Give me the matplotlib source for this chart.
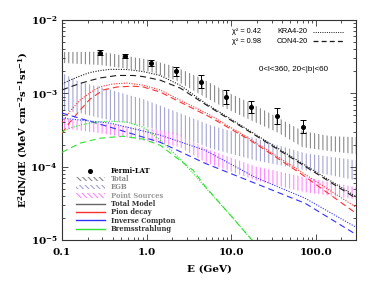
import math
import matplotlib
matplotlib.use("Agg")
import matplotlib.pyplot as plt
from matplotlib.lines import Line2D
from matplotlib.patches import Patch
from matplotlib.ticker import FixedLocator, FuncFormatter, LogLocator, NullFormatter

# ---------------- data ----------------
E_data = [0.28, 0.55, 1.12, 2.2, 4.4, 8.7, 17.3, 35, 70]
flux_data = [3.57e-3, 3.2e-3, 2.61e-3, 2.0e-3, 1.44e-3, 9.0e-4, 6.5e-4, 4.9e-4, 3.5e-4]
flux_hi = [3.84e-3, 3.41e-3, 2.85e-3, 2.3e-3, 1.77e-3, 1.12e-3, 7.8e-4, 6.3e-4, 4.3e-4]
flux_lo = [3.32e-3, 3.0e-3, 2.39e-3, 1.74e-3, 1.17e-3, 7.2e-4, 5.4e-4, 3.85e-4, 2.85e-4]

E_total_band = [0.1, 0.28, 1.1, 2.2, 4.9, 8.5, 18, 35, 70, 150, 300]
total_hi = [3.65e-3, 3.69e-3, 2.85e-3, 2.3e-3, 1.51e-3, 1.07e-3, 7.1e-4, 4.73e-4, 3.05e-4, 2.6e-4, 2.52e-4]
total_lo = [2.59e-3, 2.43e-3, 1.97e-3, 1.51e-3, 8.87e-4, 6.28e-4, 4.17e-4, 2.95e-4, 1.84e-4, 1.62e-4, 1.48e-4]

E_egb_band = [0.1, 0.163, 0.282, 0.909, 2.3, 5.64, 19.2, 75, 300]
egb_hi = [1.89e-3, 1.42e-3, 1.22e-3, 8.33e-4, 5.54e-4, 3.68e-4, 2.44e-4, 1.52e-4, 1.22e-4]
egb_lo = [5.89e-4, 5.37e-4, 4.58e-4, 3.56e-4, 2.69e-4, 1.78e-4, 1.22e-4, 8.93e-5, 6.52e-5]

E_ps_band = [0.1, 0.28, 1.44, 2.49, 4.9, 19.2, 75, 300]
ps_hi = [4.58e-4, 3.92e-4, 3.14e-4, 2.77e-4, 1.78e-4, 1.01e-4, 7.16e-5, 5.24e-5]
ps_lo = [3.35e-4, 2.86e-4, 2.09e-4, 1.84e-4, 1.15e-4, 6.52e-5, 4.47e-5, 3.59e-5]

E_kra_tot = [0.1, 0.124, 0.163, 0.214, 0.282, 0.37, 0.587, 0.909, 1.445, 2.49, 4.92, 16.8, 65.6, 300]
kra_tot = [1.34e-3, 1.51e-3, 1.72e-3, 1.92e-3, 2.04e-3, 2.12e-3, 2.11e-3, 1.98e-3, 1.75e-3, 1.29e-3,
           7.35e-4, 3.05e-4, 1.15e-4, 3.9e-5]
E_con_tot = [0.1, 0.124, 0.163, 0.214, 0.282, 0.448, 0.692, 0.909, 1.445, 2.49, 4.92, 16.8, 65.6, 300]
con_tot = [1.11e-3, 1.22e-3, 1.36e-3, 1.49e-3, 1.62e-3, 1.75e-3, 1.75e-3, 1.69e-3, 1.51e-3, 1.18e-3,
           7.1e-4, 2.95e-4, 1.11e-4, 3.7e-5]

E_kra_pi = [0.1, 0.124, 0.163, 0.214, 0.282, 0.401, 0.587, 0.909, 1.445, 2.49, 5.64, 16.8, 65.6, 300]
kra_pi = [4.05e-4, 5.71e-4, 8.07e-4, 1.02e-3, 1.23e-3, 1.34e-3, 1.38e-3, 1.29e-3, 1.11e-3, 8.07e-4,
          5.04e-4, 2.37e-4, 8.65e-5, 2.79e-5]
E_con_pi = [0.1, 0.124, 0.163, 0.214, 0.306, 0.448, 0.692, 0.909, 1.445, 2.49, 5.64, 16.8, 65.6, 300]
con_pi = [2.86e-4, 4.05e-4, 5.89e-4, 8.33e-4, 1.11e-3, 1.22e-3, 1.25e-3, 1.22e-3, 1.04e-3, 7.59e-4,
          4.73e-4, 2.29e-4, 8.13e-5, 2.31e-5]

E_ic = [0.1, 0.37, 1.445, 4.92, 19.2, 75.1, 300]
kra_ic = [4.58e-4, 3.92e-4, 2.69e-4, 1.67e-4, 7.16e-5, 3.7e-5, 1.49e-5]
con_ic = [5.37e-4, 3.45e-4, 2.15e-4, 1.11e-4, 5.93e-5, 3.16e-5, 1.19e-5]

E_kra_br = [0.1, 0.124, 0.163, 0.246, 0.37, 0.587, 0.909, 1.445, 2.3, 3.55, 4.92, 10.3, 17.7, 23.3]
kra_br = [2.95e-4, 3.35e-4, 3.68e-4, 4.05e-4, 4.17e-4, 4.05e-4, 3.45e-4, 2.3e-4, 1.39e-4, 8.13e-5,
          5.24e-5, 2.04e-5, 9.9e-6, 7.0e-6]
E_con_br = [0.1, 0.124, 0.163, 0.282, 0.527, 0.909, 1.445, 2.3, 3.55, 4.92, 10.3, 17.7, 23.3]
con_br = [1.57e-4, 1.78e-4, 2.09e-4, 2.44e-4, 2.6e-4, 2.37e-4, 1.96e-4, 1.3e-4, 8.93e-5, 5.4e-5,
          2.04e-5, 9.9e-6, 7.0e-6]

x_ticks = [0.1, 1, 10, 100]
x_ticklabels = ["0.1", "1.0", "10.0", "100.0"]
y_ticks = [1e-5, 1e-4, 1e-3, 1e-2]

legend_labels = ["Fermi-LAT", "Total", "EGB", "Point Sources", "Total Model", "Pion decay",
                 "Inverse Compton", "Bremsstrahlung"]

# ---------------- style ----------------
plt.rcParams["font.family"] = ["DejaVu Serif"]
plt.rcParams["mathtext.fontset"] = "dejavuserif"
plt.rcParams["hatch.linewidth"] = 0.8

C_RED = "#ff3030"
C_BLUE = "#3030ff"
C_GREEN = "#33e033"
C_BLACK = "#1a1a1a"
C_GRAYBAND = "#8a8a8a"
C_EGB = "#a4a4d4"
C_PS = "#ff88ff"

DOT = (0, (1.0, 1.3))
DASH = (0, (5.5, 3.5))
LW = 0.8

fig = plt.figure(figsize=(3.74, 2.81), dpi=100)
ax = fig.add_axes([0.166, 0.146, 0.786, 0.783])
ax.set_xscale("log")
ax.set_yscale("log")

# bands
ax.fill_between(E_total_band, total_lo, total_hi, facecolor="none", edgecolor=C_GRAYBAND,
                hatch="||||", linewidth=0, zorder=1)
ax.fill_between(E_egb_band, egb_lo, egb_hi, facecolor="none", edgecolor=C_EGB,
                hatch="||||", linewidth=0, zorder=1)
ax.fill_between(E_ps_band, ps_lo, ps_hi, facecolor="none", edgecolor=C_PS,
                hatch="||||", linewidth=0, zorder=1)

# model lines
ax.plot(E_kra_tot, kra_tot, color=C_BLACK, ls=DOT, lw=LW, zorder=3)
ax.plot(E_con_tot, con_tot, color=C_BLACK, ls=DASH, lw=LW, zorder=3)
ax.plot(E_kra_pi, kra_pi, color=C_RED, ls=DOT, lw=LW, zorder=3)
ax.plot(E_con_pi, con_pi, color=C_RED, ls=DASH, lw=LW, zorder=3)
ax.plot(E_ic, kra_ic, color=C_BLUE, ls=DOT, lw=LW, zorder=3)
ax.plot(E_ic, con_ic, color=C_BLUE, ls=DASH, lw=LW, zorder=3)
ax.plot(E_kra_br, kra_br, color=C_GREEN, ls=DOT, lw=LW, zorder=3)
ax.plot(E_con_br, con_br, color=C_GREEN, ls=DASH, lw=LW, zorder=3)

# data points
yerr = [[f - l for f, l in zip(flux_data, flux_lo)], [h - f for f, h in zip(flux_data, flux_hi)]]
ax.errorbar(E_data, flux_data, yerr=yerr, fmt="o", color="black", ms=2.6, elinewidth=0.7,
            capsize=2.2, capthick=0.7, zorder=5)

ax.set_xlim(0.1, 300)
ax.set_ylim(1e-5, 1e-2)

ax.xaxis.set_major_locator(FixedLocator(x_ticks))
ax.set_xticklabels(x_ticklabels)
ax.xaxis.set_minor_locator(LogLocator(base=10, subs=[2, 3, 4, 5, 6, 7, 8, 9], numticks=20))
ax.xaxis.set_minor_formatter(NullFormatter())
ax.yaxis.set_major_locator(FixedLocator(y_ticks))
ax.yaxis.set_major_formatter(FuncFormatter(
    lambda v, p: r"$\mathbf{10^{%d}}$" % round(math.log10(v))))
ax.yaxis.set_minor_locator(LogLocator(base=10, subs=[2, 3, 4, 5, 6, 7, 8, 9], numticks=20))
ax.yaxis.set_minor_formatter(NullFormatter())

ax.tick_params(which="both", direction="in", top=True, right=True, width=0.6, color="#333333")
ax.tick_params(which="major", length=4.5, labelsize=7.5)
ax.tick_params(axis="x", which="major", pad=6)
ax.tick_params(axis="y", which="major", pad=3)
ax.tick_params(which="minor", length=2.3)
for lab in ax.get_xticklabels():
    lab.set_fontweight("bold")
for sp in ax.spines.values():
    sp.set_linewidth(0.8)
    sp.set_color("#333333")

ax.set_xlabel("E (GeV)", fontsize=7.5, fontweight="bold", labelpad=5)
ax.set_ylabel(r"E$^{\mathbf{2}}$dN/dE (MeV cm$^{\mathbf{-2}}$s$^{\mathbf{-1}}$sr$^{\mathbf{-1}}$)",
              fontsize=7.2, fontweight="bold")
ax.yaxis.set_label_coords(-0.109, 0.5)

# annotations
sans = ["Liberation Sans", "DejaVu Sans"]
fs_ann = 5.3
ax.text(0.578, 0.946, "\u03c7\u00b2 = 0.42", transform=ax.transAxes, fontsize=fs_ann, family=sans,
        va="center", ha="left")
ax.text(0.578, 0.903, "\u03c7\u00b2 = 0.98", transform=ax.transAxes, fontsize=fs_ann, family=sans,
        va="center", ha="left")
ax.text(0.731, 0.946, "KRA4-20", transform=ax.transAxes, fontsize=fs_ann, family=sans,
        va="center", ha="left")
ax.text(0.731, 0.903, "CON4-20", transform=ax.transAxes, fontsize=fs_ann, family=sans,
        va="center", ha="left")
ax.add_line(Line2D([0.854, 0.959], [0.946, 0.946], transform=ax.transAxes, color=C_BLACK,
                   ls=DOT, lw=0.7))
ax.add_line(Line2D([0.854, 0.959], [0.903, 0.903], transform=ax.transAxes, color=C_BLACK,
                   ls=(0, (4, 2.5)), lw=0.9))
ax.text(0.786, 0.777, "0<l<360, 20<|b|<60", transform=ax.transAxes, fontsize=5.8, family=sans,
        va="center", ha="center")

# legend
HATCH_L = "\\\\\\\\\\\\"
handles = [
    Line2D([], [], ls="none", marker="o", color="black", ms=2.6),
    Patch(facecolor="none", edgecolor=C_GRAYBAND, hatch=HATCH_L, linewidth=0),
    Patch(facecolor="none", edgecolor=C_EGB, hatch=HATCH_L, linewidth=0),
    Patch(facecolor="none", edgecolor=C_PS, hatch=HATCH_L, linewidth=0),
    Line2D([], [], color="#666666", lw=1.0),
    Line2D([], [], color=C_RED, lw=1.0),
    Line2D([], [], color=C_BLUE, lw=1.0),
    Line2D([], [], color=C_GREEN, lw=1.0),
]
leg = ax.legend(handles, legend_labels, loc="upper left", bbox_to_anchor=(0.045, 0.335),
                frameon=False, fontsize=4.9, handlelength=4.2, handleheight=0.6,
                handletextpad=0.9, labelspacing=0.04, borderpad=0.1, borderaxespad=0.0)
text_colors = ["black", "#888888", "#888888", "#999999", "#333333", "#333333", "#333333", "#333333"]
for t, c in zip(leg.get_texts(), text_colors):
    t.set_color(c)
    t.set_fontweight("bold")

fig.savefig("out.png", dpi=100)
